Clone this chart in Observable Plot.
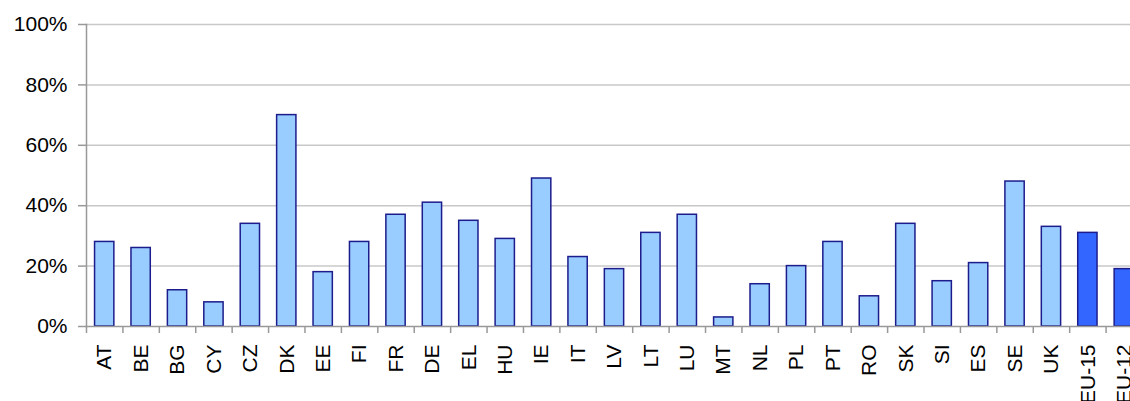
<!DOCTYPE html>
<html><head><meta charset="utf-8">
<script src="https://cdn.jsdelivr.net/npm/d3@7"></script>
<script src="https://cdn.jsdelivr.net/npm/@observablehq/plot@0.6"></script>
<style>
html,body{margin:0;padding:0;background:#fff;overflow:hidden;}
</style></head><body><div id="chart"></div>
<script>
const countries = ["AT","BE","BG","CY","CZ","DK","EE","FI","FR","DE","EL","HU","IE","IT","LV","LT","LU","MT","NL","PL","PT","RO","SK","SI","ES","SE","UK","EU-15","EU-12"];
const shares = [0.28,0.26,0.12,0.08,0.34,0.70,0.18,0.28,0.37,0.41,0.35,0.29,0.49,0.23,0.19,0.31,0.37,0.03,0.14,0.20,0.28,0.10,0.34,0.15,0.21,0.48,0.33,0.31,0.19];
const groups = countries.map(c => c.startsWith("EU") ? "aggregate" : "country");
const groupNames = ["country","aggregate"];
const groupColors = ["#99CCFF","#3366FF"];
const yTicks = [0,0.2,0.4,0.6,0.8,1];

const data = countries.map((c,i) => ({country:c, share:shares[i], group:groups[i]}));

const W = 1130, H = 401, ML = 86, MR = -12, MT = 24, MB = 75;
const step = (W - MR - ML) / countries.length;

const chart = Plot.plot({
  width: W, height: H,
  marginLeft: ML, marginRight: MR, marginTop: MT, marginBottom: MB,
  style: {fontFamily: "'Liberation Sans', Arial, sans-serif", fontSize: "21px", color: "#000", background: "#fff", overflow: "hidden", maxWidth: "none"},
  x: {domain: countries, paddingInner: 0.47, paddingOuter: 0.235, round: false, label: null},
  y: {domain: [0, 1], label: null},
  color: {domain: groupNames, range: groupColors},
  marks: [
    Plot.gridY(yTicks.slice(1), {stroke: "#c8c8c8", strokeOpacity: 1, strokeWidth: 1.5}),
    Plot.axisY({ticks: yTicks, tickFormat: d3.format(".0%"), tickSize: 8, tickPadding: 11, stroke: "#999", strokeWidth: 1.5, fontSize: 21, fill: "#000"}),
    Plot.barY(data, {x: "country", y: "share", fill: "group", stroke: "#1c1c8c", strokeWidth: 1.5}),
    Plot.frame({anchor: "left", stroke: "#999", strokeWidth: 1.5}),
    Plot.frame({anchor: "bottom", stroke: "#999", strokeWidth: 1.5}),
    Plot.axisX({tickSize: 7, tickFormat: () => "", dx: -step / 2, stroke: "#999", strokeWidth: 1.5}),
    Plot.axisX({tickSize: 0, tickRotate: -90, tickPadding: 18, fontSize: 21, fill: "#000"})
  ]
});
document.getElementById("chart").appendChild(chart);
</script>
</body></html>
